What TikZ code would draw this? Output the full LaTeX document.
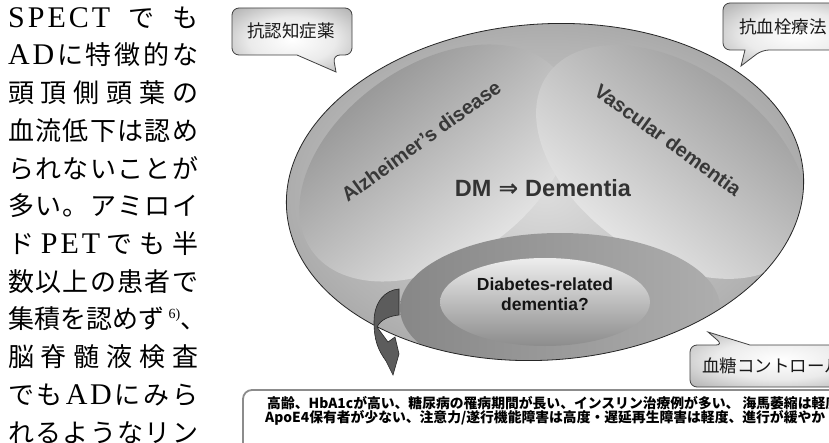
\documentclass[tikz,border=0pt]{standalone}
\usepackage{fontspec}
\setmainfont{Liberation Sans}
\newfontfamily\jp{Noto Sans CJK JP}
\newfontfamily\ser{Liberation Serif}
\newfontfamily\dv{DejaVu Sans}
\pgfdeclareradialshading{outerrad}{\pgfpoint{0bp}{0bp}}{color(0bp)=(black!14); color(22bp)=(black!30); color(38bp)=(black!45); color(50bp)=(black!72)}
\pgfdeclareradialshading{callrad}{\pgfpoint{0bp}{0bp}}{color(0bp)=(white); color(18bp)=(black!8); color(50bp)=(black!50)}
\tikzset{
  ltxt/.style={anchor=base west, inner sep=0pt, font=\jp\fontsize{26}{26}\selectfont},
  calloutbox/.style={shading=callrad, draw=black!75, line width=0.8pt},
  calltext/.style={inner sep=0pt, font=\jp\fontsize{17.5}{18}\selectfont, text=black!90},
  lobetext/.style={inner sep=0pt, font=\bfseries\fontsize{20}{22}\selectfont, text=black!78},
  botline/.style={anchor=base west, inner sep=0pt, font=\jp\bfseries\fontsize{13.8}{14}\selectfont},
}
\newcommand\latn[1]{{\fontsize{30}{30}\selectfont\ser #1}}
\begin{document}
\begin{tikzpicture}[x=1pt,y=-1pt]
\useasboundingbox (0,0) rectangle (829,443);
\clip (0,0) rectangle (829,443);
\fill[white] (0,0) rectangle (829,443);

% ---- left column text
\node[ltxt] (l1) at (8,27.3) {\hbox to 190pt{\latn{S\kern3pt P\kern3pt E\kern3pt C\kern3pt T}\hfill で\hfill も}};
\node[ltxt] (l2) at (8,65) {\hbox to 190pt{\latn{A}\hfill\latn{D}\hfill に\hfill 特\hfill 徴\hfill 的\hfill な}};
\node[ltxt] (l3) at (8,102.7) {\hbox to 190pt{頭\hfill 頂\hfill 側\hfill 頭\hfill 葉\hfill の}};
\node[ltxt] (l4) at (8,140.4) {\hbox to 190pt{血\hfill 流\hfill 低\hfill 下\hfill は\hfill 認\hfill め}};
\node[ltxt] (l5) at (8,178.1) {\hbox to 190pt{ら\hfill れ\hfill な\hfill い\hfill こ\hfill と\hfill が}};
\node[ltxt] (l6) at (8,215.8) {\hbox to 190pt{多\hfill い\hfill 。\hfill ア\hfill ミ\hfill ロ\hfill イ}};
\node[ltxt] (l7) at (8,253.5) {\hbox to 190pt{ド\hfill\latn{P\kern3pt E\kern3pt T}\hfill で\hfill も\hfill 半}};
\node[ltxt] (l8) at (8,291.2) {\hbox to 190pt{数\hfill 以\hfill 上\hfill の\hfill 患\hfill 者\hfill で}};
\node[ltxt] (l9) at (8,328.9) {\hbox to 190pt{集\hfill 積\hfill を\hfill 認\hfill め\hfill ず\,\raisebox{10pt}{\fontsize{14}{14}\selectfont\ser 6)}\hfill 、}};
\node[ltxt] (l10) at (8,366.6) {\hbox to 190pt{脳\hfill 脊\hfill 髄\hfill 液\hfill 検\hfill 査}};
\node[ltxt] (l11) at (8,404.3) {\hbox to 190pt{で\hfill も\hfill\latn{A}\hfill\latn{D}\hfill に\hfill み\hfill ら}};
\node[ltxt] (l12) at (8,442) {\hbox to 190pt{れ\hfill る\hfill よ\hfill う\hfill な\hfill リ\hfill ン}};

% ---- big ellipse
\shade[shading=outerrad, rotate around={4:(545,192)}] (545,192) ellipse [x radius=259, y radius=168];
\begin{scope}
  \clip[rotate around={4:(545,192)}] (545,192) ellipse [x radius=259, y radius=168];
  \shade[top color=black!46, bottom color=black!5, shading angle=40, rotate around={35:(436,163)}] (436,163) ellipse [x radius=152, y radius=98];
  \shade[top color=black!42, bottom color=black!5, shading angle=-40, rotate around={-35:(672,162)}] (672,162) ellipse [x radius=152, y radius=95];
  \shade[left color=black!47, right color=black!32] (560,308) ellipse [x radius=160, y radius=75];
  \shade[top color=black!7, bottom color=black!45] (545,302) ellipse [x radius=105, y radius=44];
\end{scope}
\draw[line width=0.8pt, black!85, rotate around={4:(545,192)}] (545,192) ellipse [x radius=259, y radius=168];

\node[lobetext, rotate=36] (ad) at (421,141) {Alzheimer’s disease};
\node[lobetext, rotate=-36] (vd) at (668,140) {Vascular dementia};
\node[inner sep=0pt, font=\bfseries\fontsize{23.5}{25}\selectfont, text=black!80] (dm) at (543,188) {DM\kern7pt{\dv\bfseries ⇒}\kern7pt Dementia};
\node[inner sep=0pt, font=\bfseries\fontsize{17.5}{20}\selectfont, align=center, text=black!92] (dr) at (545,294) {Diabetes-related\\dementia?};

% ---- curved arrow
\filldraw[fill=black!64, draw=black!85, line width=0.6pt]
  (399,289) .. controls (385,290) and (374,302) .. (374,322)
  .. controls (374,340) and (378,350) .. (386,361)
  -- (393,375) -- (399,354) -- (395,337) -- (388,342) -- (377,327)
  .. controls (381,319) and (390,316) .. (399,315) -- cycle;

% ---- callouts
\path[calloutbox] (232,30) [rounded corners=7pt] -- (232,8) -- (352,8) -- (352,55) -- (333,55) [sharp corners] -- (336,72) -- (297,55) [rounded corners=7pt] -- (232,55) -- cycle;
\node[calltext] (c1) at (291,31) {抗認知症薬};

\path[calloutbox] (723,30) [rounded corners=7pt] -- (723,3) -- (870,3) -- (870,50) -- (762,50) [sharp corners] -- (741,66) -- (745,50) [rounded corners=7pt] -- (723,50) -- cycle;
\node[calltext] (c2) at (783,27) {抗血栓療法};

\path[calloutbox] (690,365) [rounded corners=7pt] -- (690,345) -- (723,345) [sharp corners] -- (708,332) -- (750,345) [rounded corners=7pt] -- (870,345) -- (870,387) -- (690,387) -- cycle;
\node[calltext, anchor=west] (c3) at (702,366) {血糖コントロール};

% ---- bottom box
\draw[line width=1.8pt, draw=black!45, rounded corners=9pt, fill=white] (243,390) rectangle (870,470);
\node[botline] (b1) at (267,408) {高齢、HbA1cが高い、糖尿病の罹病期間が長い、インスリン治療例が多い、 海馬萎縮は軽度、};
\node[botline] (b2) at (265,422) {ApoE4保有者が少ない、注意力/遂行機能障害は高度・遅延再生障害は軽度、進行が緩やか};
\end{tikzpicture}
\end{document}
